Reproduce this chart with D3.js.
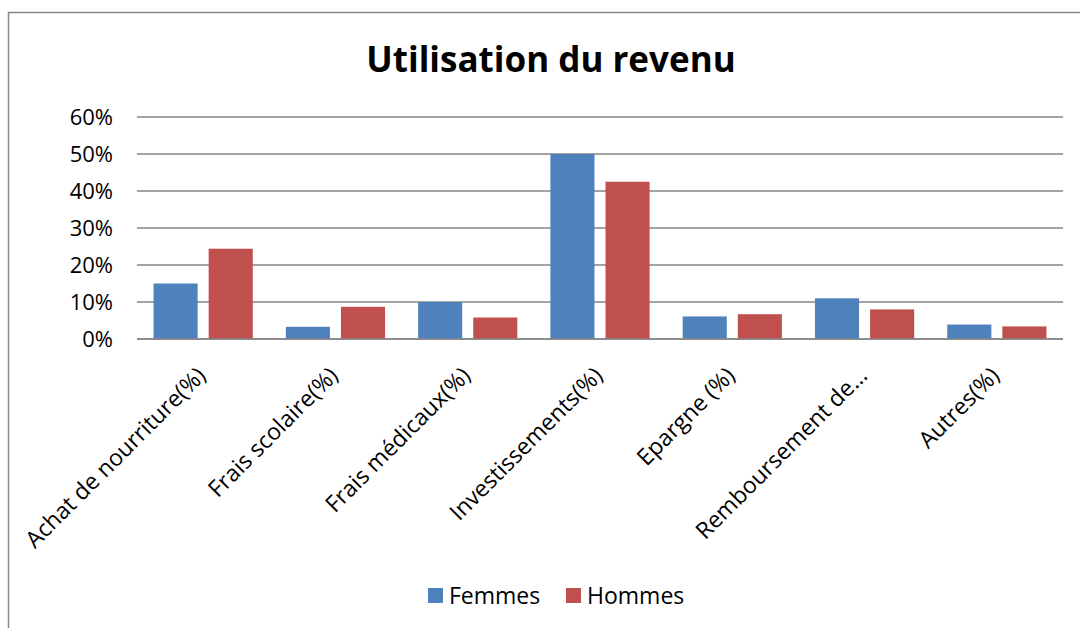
<!DOCTYPE html>
<html>
<head>
<meta charset="utf-8">
<script src="https://cdn.jsdelivr.net/npm/d3@7"></script>
<style>
  body { margin: 0; background: white; }
  text { font-family: "Open Sans", sans-serif; fill: #000; }
</style>
</head>
<body>
<div id="chart"></div>
<script>
// Data
const categories = ["Achat de nourriture(%)", "Frais scolaire(%)", "Frais médicaux(%)",
    "Investissements(%)", "Epargne (%)", "Remboursement de…", "Autres(%)"];
const series = ["Femmes", "Hommes"];
const femmes = [15.0, 3.3, 10.0, 50.0, 6.1, 11.0, 3.9];
const hommes = [24.4, 8.7, 5.8, 42.5, 6.7, 8.0, 3.4];
const yTicks = [0, 10, 20, 30, 40, 50, 60];
const colors = ["#4F81BD", "#C0504D"];

const width = 1080, height = 628;
const margin = { top: 117, bottom: 290, left: 137, right: 17 };

const svg = d3.select('#chart')
  .append('svg')
  .attr('width', width)
  .attr('height', height)
  .style('background', 'white');

// chart area border (right and bottom sides are cut off)
svg.append('path')
  .attr('d', `M8.5,${height} V12.5 H${width}`)
  .attr('fill', 'none')
  .attr('stroke', '#888')
  .attr('stroke-width', 1.5);

// title
svg.append('text')
  .text('Utilisation du revenu')
  .attr('x', 551)
  .attr('y', 72)
  .attr('text-anchor', 'middle')
  .style('font-size', '35px')
  .style('font-weight', 'bold');

const xScale = d3.scaleBand()
  .domain(categories)
  .range([margin.left, width - margin.right]);

const xInner = d3.scaleBand()
  .domain(series)
  .range([0, xScale.bandwidth()])
  .paddingInner(0.2)
  .paddingOuter(0.3);

const yScale = d3.scaleLinear()
  .domain([0, 60])
  .range([height - margin.bottom + 1, margin.top]);

// gridlines
svg.append('g')
  .selectAll('line')
  .data(yTicks)
  .join('line')
  .attr('x1', margin.left)
  .attr('x2', width - margin.right)
  .attr('y1', d => yScale(d))
  .attr('y2', d => yScale(d))
  .attr('stroke', '#868686')
  .attr('stroke-width', 1.5);

// y axis labels
const yaxis = svg.append('g')
  .attr('transform', `translate(${margin.left - 24},0)`)
  .call(d3.axisLeft(yScale).tickValues(yTicks).tickSize(0).tickFormat(d => d + '%'));
yaxis.select('.domain').remove();
yaxis.selectAll('text')
  .attr('x', 0)
  .attr('dy', '0.35em')
  .style('font-size', '22px')
  .style('font-family', '"Open Sans", sans-serif');

// bars
const rows = categories.map((c, i) => ({ cat: c, values: [femmes[i], hommes[i]] }));
const groups = svg.append('g')
  .selectAll('g')
  .data(rows)
  .join('g')
  .attr('transform', d => `translate(${xScale(d.cat)},0)`);

groups.selectAll('rect')
  .data(d => d.values.map((v, j) => ({ s: series[j], v: v, j: j })))
  .join('rect')
  .attr('x', d => xInner(d.s))
  .attr('y', d => yScale(d.v))
  .attr('width', xInner.bandwidth())
  .attr('height', d => yScale(0) - yScale(d.v))
  .attr('fill', d => colors[d.j]);

// redraw base line on top of bars
svg.append('line')
  .attr('x1', margin.left)
  .attr('x2', width - margin.right)
  .attr('y1', yScale(0))
  .attr('y2', yScale(0))
  .attr('stroke', '#868686')
  .attr('stroke-width', 1.5);

// x axis labels, rotated
const xaxis = svg.append('g')
  .attr('transform', `translate(0,${yScale(0)})`)
  .call(d3.axisBottom(xScale).tickSize(0));
xaxis.select('.domain').remove();
xaxis.selectAll('text')
  .attr('text-anchor', 'end')
  .attr('transform', 'translate(4,38) rotate(-45)')
  .attr('dy', 0)
  .attr('y', 0)
  .style('font-size', '23px')
  .style('font-family', '"Open Sans", sans-serif');

// legend
const legend = svg.append('g')
  .attr('transform', 'translate(428,588)');
const legendX = [0, 138];
series.forEach((s, i) => {
  legend.append('rect')
    .attr('x', legendX[i])
    .attr('y', 0)
    .attr('width', 15)
    .attr('height', 15)
    .attr('fill', colors[i]);
  legend.append('text')
    .text(s)
    .attr('x', legendX[i] + 21)
    .attr('y', 16)
    .style('font-size', '23px');
});
</script>
</body>
</html>
